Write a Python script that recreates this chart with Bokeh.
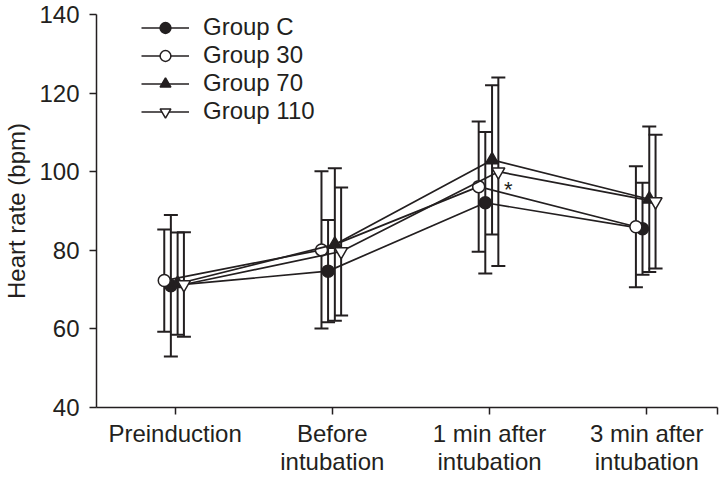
from bokeh.plotting import figure
from bokeh.models import Range1d, FixedTicker, Whisker, TeeHead, ColumnDataSource, Legend, LegendItem, Label
from bokeh.embed import file_html
from bokeh.resources import INLINE

# ---- data ----
categories = ["Preinduction", "Before\nintubation", "1 min after\nintubation", "3 min after\nintubation"]
cat_pos = [0, 1, 2, 3]

group_c_mean = [71.0, 74.7, 92.1, 85.5]
group_c_sd = [18.0, 13.0, 18.0, 11.7]
group_30_mean = [72.3, 80.1, 96.2, 86.0]
group_30_sd = [13.0, 20.0, 16.6, 15.4]
group_70_mean = [71.5, 81.5, 103.0, 93.0]
group_70_sd = [13.0, 19.4, 19.0, 18.5]
group_110_mean = [71.3, 79.7, 100.0, 92.4]
group_110_sd = [13.3, 16.3, 24.0, 17.0]

y_ticks = [40, 60, 80, 100, 120, 140]

INK = "#231f20"
FONT = "Liberation Sans"
FS = "24px"

p = figure(width=719, height=477, output_backend="svg", toolbar_location=None,
           x_range=Range1d(-0.5, 3.45), y_range=Range1d(40, 140),
           min_border_left=85, min_border_right=2, min_border_top=14, min_border_bottom=60)
p.outline_line_color = None
p.grid.visible = False
p.background_fill_color = "white"

groups = [
    ("Group C", group_c_mean, group_c_sd, -0.027, "circle", INK, 12),
    ("Group 30", group_30_mean, group_30_sd, -0.069, "circle", "white", 12),
    ("Group 70", group_70_mean, group_70_sd, 0.016, "triangle", INK, 13),
    ("Group 110", group_110_mean, group_110_sd, 0.056, "inverted_triangle", "white", 13),
]

# error bars first
for name, mean, sd, off, marker, fill, size in groups:
    xs = [c + off for c in cat_pos]
    src = ColumnDataSource(dict(x=xs, upper=[m + s for m, s in zip(mean, sd)],
                                lower=[m - s for m, s in zip(mean, sd)]))
    w = Whisker(base="x", upper="upper", lower="lower", source=src,
                line_color=INK, line_width=2,
                upper_head=TeeHead(size=14, line_color=INK, line_width=2),
                lower_head=TeeHead(size=14, line_color=INK, line_width=2))
    p.add_layout(w)

items = []
for name, mean, sd, off, marker, fill, size in groups:
    xs = [c + off for c in cat_pos]
    src = ColumnDataSource(dict(x=xs, y=mean))
    r1 = p.line("x", "y", source=src, line_color=INK, line_width=1.7)
    r2 = p.scatter("x", "y", source=src, marker=marker, size=size,
                   fill_color=fill, line_color=INK, line_width=1.5)
    items.append(LegendItem(label=name, renderers=[r1, r2]))

legend = Legend(items=items, location=(45, 282), orientation="vertical")
legend.border_line_color = None
legend.background_fill_alpha = 0
legend.padding = 0
legend.margin = 0
legend.spacing = 0
legend.glyph_width = 48
legend.glyph_height = 27
legend.label_height = 27
legend.label_standoff = 14
legend.label_text_font = FONT
legend.label_text_font_size = FS
legend.label_text_color = INK
p.add_layout(legend, "center")

p.add_layout(Label(x=2.12, y=95.5, text="*", text_font=FONT, text_font_size="22px",
                   text_color=INK, text_align="center", text_baseline="middle"))

# axes
xa = p.xaxis[0]
xa.ticker = FixedTicker(ticks=cat_pos, minor_ticks=[3.45])
xa.major_label_overrides = {c: lab for c, lab in zip(cat_pos, categories)}
xa.major_tick_in = 0
xa.major_tick_out = 7
xa.minor_tick_in = 0
xa.minor_tick_out = 7
xa.minor_tick_line_color = INK
xa.minor_tick_line_width = 1.5
xa.major_tick_line_width = 1.5
xa.axis_line_width = 1.5
xa.axis_line_color = INK
xa.major_tick_line_color = INK
xa.major_label_text_font = FONT
xa.major_label_text_font_size = FS
xa.major_label_text_color = INK
xa.major_label_standoff = 5
xa.major_label_text_line_height = 1.05

ya = p.yaxis[0]
ya.ticker = FixedTicker(ticks=y_ticks)
ya.major_tick_in = 0
ya.major_tick_out = 7
ya.minor_tick_line_color = None
ya.major_tick_line_width = 1.5
ya.axis_line_width = 1.5
ya.axis_line_color = INK
ya.major_tick_line_color = INK
ya.major_label_text_font = FONT
ya.major_label_text_font_size = FS
ya.major_label_text_color = INK
ya.major_label_standoff = 10
ya.axis_label = "Heart rate (bpm)"
ya.axis_label_text_font = FONT
ya.axis_label_text_font_size = FS
ya.axis_label_text_font_style = "normal"
ya.axis_label_text_color = INK
ya.axis_label_standoff = 6

open("out.html", "w").write(file_html(p, INLINE))
